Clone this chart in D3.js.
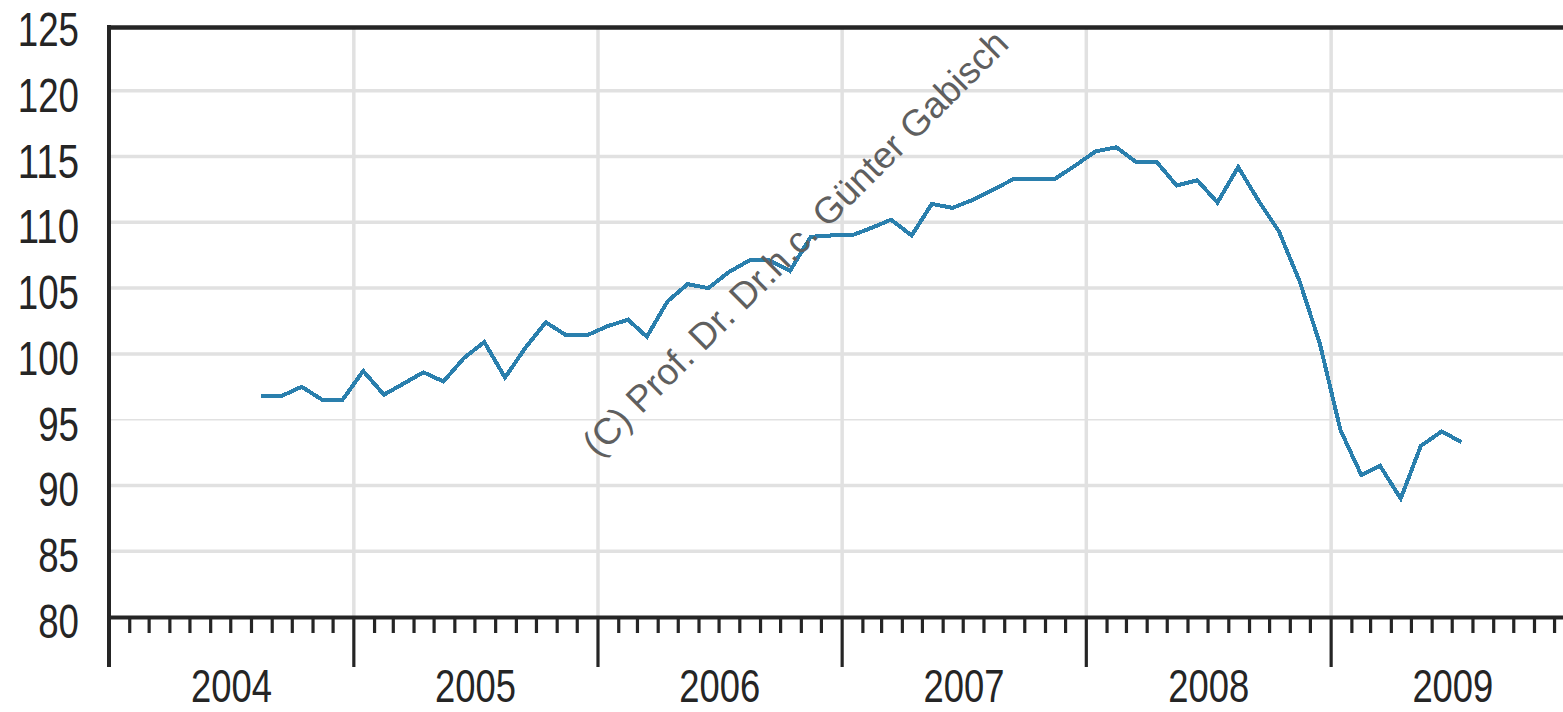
<!DOCTYPE html>
<html>
<head>
<meta charset="utf-8">
<script src="https://cdn.jsdelivr.net/npm/d3@7"></script>
<style>
    body { margin: 0; background: #fff; }
    text { font-family: "Liberation Sans", Arial, sans-serif; }
</style>
</head>
<body>
<div id="chart"></div>
<script>
// first month of the series (Aug 2004), one value per month up to Jul 2009
var firstMonth = new Date(2004, 7, 15);
var values = [
    96.8, 96.8, 97.5, 96.5, 96.5,                                    // 2004 Aug-Dec
    98.7, 96.9, 97.7, 98.6, 97.9, 99.7, 100.9, 98.2, 100.5, 102.4, 101.4, 101.4,  // 2005
    102.1, 102.6, 101.3, 104.0, 105.3, 105.0, 106.2, 107.1, 107.1, 106.3, 108.9, 109.0, // 2006
    109.0, 109.6, 110.2, 109.0, 111.4, 111.1, 111.7, 112.5, 113.3, 113.3, 113.3, 114.3, // 2007
    115.4, 115.7, 114.6, 114.6, 112.8, 113.2, 111.5, 114.2, 111.6, 109.3, 105.5, 100.8, // 2008
    94.2, 90.8, 91.5, 89.0, 93.0, 94.1, 93.3                         // 2009 Jan-Jul
];
var yTicks = [80, 85, 90, 95, 100, 105, 110, 115, 120, 125];
var years = [2004, 2005, 2006, 2007, 2008, 2009];
var watermark = "(C) Prof. Dr. Dr.h.c. Günter Gabisch";

function main(domSelector) {

    var width = 1563;
    var height = 712;
    var axisColor = '#252525';
    var gridColor = '#e1e1e1';

    var svg = d3.select(domSelector).append('svg')
        .attr('width', width)
        .attr('height', height);

    var points = values.map(function (v, i) {
        return [d3.timeMonth.offset(firstMonth, i), v];
    });

    var xScale = d3.scaleTime()
        .domain([new Date(2004, 0, 1), new Date(2010, 0, 1)])
        .range([109, 1575.3]);
    var yScale = d3.scaleLinear().domain([80, 125]).range([617, 25]);

    var x0 = xScale.range()[0];
    var yBottom = yScale(80);

    // horizontal grid
    svg.append('g').selectAll('line')
        .data(yTicks.filter(function (d) { return d > 80 && d < 125; }))
        .enter().append('line')
        .attr('x1', x0).attr('x2', width)
        .attr('y1', function (d) { return yScale(d); })
        .attr('y2', function (d) { return yScale(d); })
        .attr('stroke', gridColor)
        .attr('stroke-width', function (d) { return d === 95 ? 1.5 : 3.5; });

    // vertical grid at year starts
    var yearStarts = years.map(function (y) { return new Date(y, 0, 1); });
    svg.append('g').selectAll('line')
        .data(yearStarts.slice(1))
        .enter().append('line')
        .attr('x1', function (d) { return xScale(d); })
        .attr('x2', function (d) { return xScale(d); })
        .attr('y1', 27).attr('y2', yBottom)
        .attr('stroke', gridColor)
        .attr('stroke-width', 3.5);

    // series
    var line = d3.line()
        .x(function (d) { return xScale(d[0]); })
        .y(function (d) { return yScale(d[1]); });
    svg.append('path')
        .datum(points)
        .attr('d', line)
        .attr('fill', 'none')
        .attr('stroke', '#2a7fad')
        .attr('stroke-width', 4)
        .attr('shape-rendering', 'crispEdges');

    // frame: top and left
    svg.append('line')
        .attr('x1', x0 - 2).attr('x2', width)
        .attr('y1', 27.5).attr('y2', 27.5)
        .attr('stroke', axisColor).attr('stroke-width', 4.5);
    svg.append('line')
        .attr('x1', x0).attr('x2', x0)
        .attr('y1', 25).attr('y2', 667)
        .attr('stroke', axisColor).attr('stroke-width', 4);

    // x axis: month ticks (short) and year ticks (long)
    var xAxis = svg.append('g');
    xAxis.append('line')
        .attr('x1', x0).attr('x2', width)
        .attr('y1', yBottom + 0.5).attr('y2', yBottom + 0.5)
        .attr('stroke', axisColor).attr('stroke-width', 4);
    xAxis.selectAll('line.minor')
        .data(d3.timeMonth.range(new Date(2004, 1, 1), new Date(2010, 0, 1))
            .filter(function (d) { return d.getMonth() !== 0; }))
        .enter().append('line')
        .attr('class', 'minor')
        .attr('x1', function (d) { return xScale(d); })
        .attr('x2', function (d) { return xScale(d); })
        .attr('y1', yBottom).attr('y2', 633)
        .attr('stroke', axisColor).attr('stroke-width', 3.2);
    xAxis.selectAll('line.major')
        .data(yearStarts.slice(1))
        .enter().append('line')
        .attr('class', 'major')
        .attr('x1', function (d) { return xScale(d); })
        .attr('x2', function (d) { return xScale(d); })
        .attr('y1', yBottom).attr('y2', 667)
        .attr('stroke', axisColor).attr('stroke-width', 3.2);
    // year labels sit right at the bottom edge, kept just inside it
    xAxis.selectAll('text')
        .data(years)
        .enter().append('text')
        .attr('x', function (d) { return xScale(new Date(d, 6, 2)); })
        .attr('y', 702)
        .attr('text-anchor', 'middle')
        .attr('font-size', 46)
        .attr('fill', axisColor)
        .attr('textLength', 81)
        .attr('lengthAdjust', 'spacingAndGlyphs')
        .text(function (d) { return d; });

    // y labels
    svg.append('g').selectAll('text')
        .data(yTicks)
        .enter().append('text')
        .attr('x', 79)
        .attr('y', function (d) { return yScale(d) + 21; })
        .attr('text-anchor', 'end')
        .attr('font-size', 49)
        .attr('fill', axisColor)
        .attr('textLength', function (d) { return String(d).length * 20.4; })
        .attr('lengthAdjust', 'spacingAndGlyphs')
        .text(function (d) { return d; });

    // watermark
    svg.append('text')
        .attr('transform', 'translate(795,243) rotate(-45)')
        .attr('text-anchor', 'middle')
        .attr('dy', '0.35em')
        .attr('font-size', 37)
        .attr('fill', '#5f5f5f')
        .text(watermark);
}

main('#chart');
</script>
</body>
</html>
